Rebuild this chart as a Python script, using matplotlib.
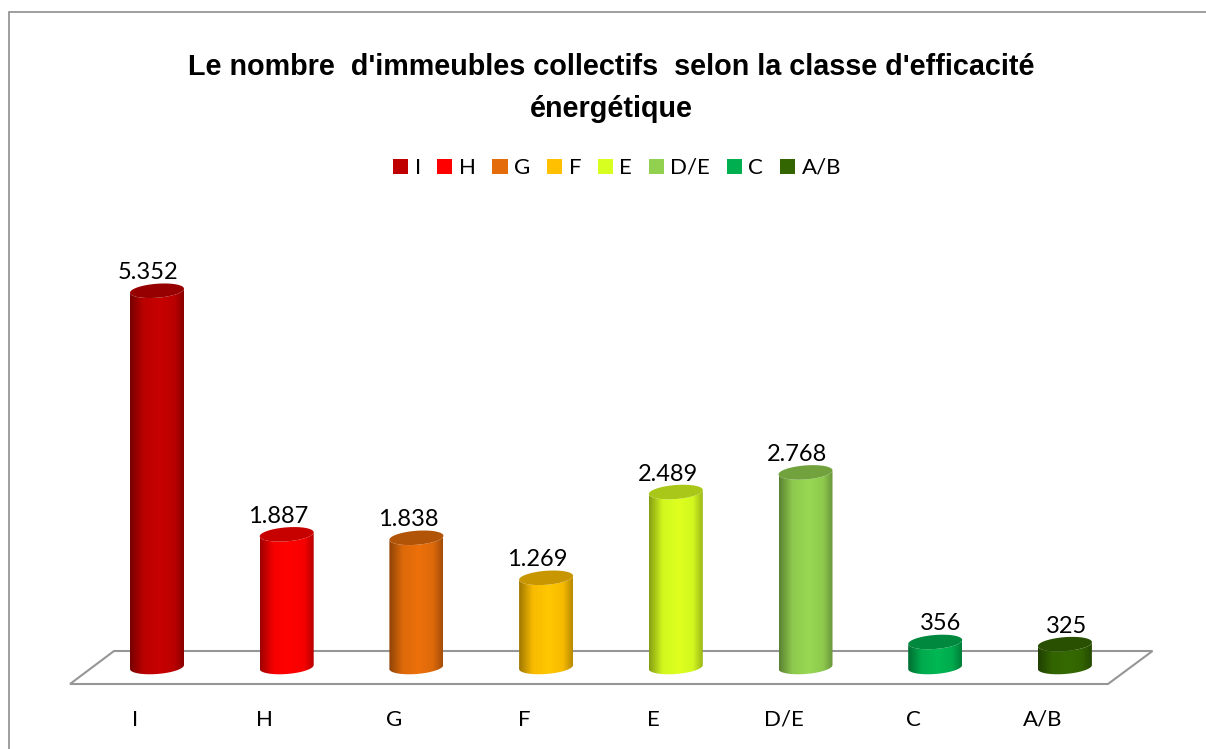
import matplotlib
matplotlib.use('Agg')
import matplotlib.pyplot as plt
import numpy as np
from matplotlib.colors import LinearSegmentedColormap, to_rgb
from matplotlib.patches import Patch, PathPatch, Polygon
from matplotlib.path import Path

classes = ['I', 'H', 'G', 'F', 'E', 'D/E', 'C', 'A/B']
counts = [5352, 1887, 1838, 1269, 2489, 2768, 356, 325]
count_labels = ['5.352', '1.887', '1.838', '1.269', '2.489', '2.768', '356', '325']
colors = ['#C00000', '#FF0000', '#E46C0A', '#FFC000', '#D7FF1F', '#92D050', '#00B050', '#336600']
label_shift = [-9, -9, -8, -9, -8, -8, 5, 2]
title = "Le nombre  d'immeubles collectifs  selon la classe d'efficacité\nénergétique"

W, H = 1206, 749
PX_X = 129.7     # px per category
PX_Y = 0.0703    # px per unit
X0, Y0 = 157, 667

fig = plt.figure(figsize=(W / 100, H / 100), dpi=100, facecolor='white')

# frame and floor, in pixels
bg = fig.add_axes([0, 0, 1, 1])
bg.set_xlim(0, W)
bg.set_ylim(H, 0)
bg.axis('off')
bg.plot([8.5, 8.5, W], [H, 11.5, 11.5], color='#969696', lw=1.3, solid_joinstyle='miter')
bg.add_patch(Polygon([(70, 684), (1108, 684), (1152.5, 651), (114, 651)], closed=True,
                     fill=False, edgecolor='#969696', lw=1.5))

ax = fig.add_axes([0, 0, 1, 1])
ax.patch.set_visible(False)
ax.axis('off')

a = 27 / PX_X
b = 7 / PX_Y
tilt = 2 / PX_Y


def rim(xc, yc, t):
    return xc + a * np.cos(t), yc + b * np.sin(t) + tilt * np.cos(t)


for i, (v, c) in enumerate(zip(counts, colors)):
    base = np.array(to_rgb(c))
    cmap = LinearSegmentedColormap.from_list('cyl', [
        (0, base * 0.62), (0.25, base * 0.97), (0.55, np.minimum(base * 1.04, 1)), (0.82, base * 0.97), (1, base * 0.72)])
    low_x, low_y = rim(i, 0, np.linspace(np.pi, 2 * np.pi, 60))
    top_x, top_y = rim(i, v, np.linspace(2 * np.pi, np.pi, 60))
    body = Path(np.column_stack([np.r_[top_x[-1], low_x, top_x], np.r_[top_y[-1], low_y, top_y]]))
    im = ax.imshow(np.linspace(0, 1, 128)[None, :], cmap=cmap, aspect='auto', zorder=2,
                   extent=[i - a, i + a, -b - tilt, v + b + tilt], interpolation='bilinear')
    im.set_clip_path(PathPatch(body, transform=ax.transData))
    t = np.linspace(0, 2 * np.pi, 90)
    ex, ey = rim(i, v, t)
    ax.fill(ex, ey, color=base * 0.78, lw=0, zorder=3)
    ax.annotate(count_labels[i], (i, v), xytext=(label_shift[i], 18), textcoords='offset pixels',
                ha='center', va='center', family='Lato', fontsize=17, color='black')
    ax.annotate(classes[i], (i, 0), xytext=(-22, -53), textcoords='offset pixels',
                ha='center', va='center', family='Lato', fontsize=16, color='black')

ax.set_xlim(-X0 / PX_X, (W - X0) / PX_X)
ax.set_ylim((Y0 - H) / PX_Y, Y0 / PX_Y)

fig.text(611 / W, 1 - 88 / H, title, ha='center', va='center', family='Liberation Sans',
         fontweight='bold', fontsize=20.7, linespacing=1.6, color='black')

handles = [Patch(facecolor=c, edgecolor='none', label=n) for n, c in zip(classes, colors)]
fig.legend(handles=handles, loc='center', bbox_to_anchor=(617 / W, 1 - 168 / H), ncols=8, frameon=False,
           prop={'family': 'Lato', 'size': 16}, handlelength=0.68, handleheight=0.68,
           handletextpad=0.3, columnspacing=0.74, borderpad=0)

fig.savefig('out.png', dpi=100)
